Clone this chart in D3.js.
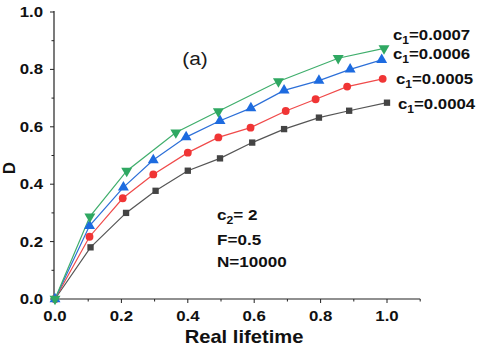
<!DOCTYPE html>
<html><head><meta charset="utf-8">
<script src="https://cdn.jsdelivr.net/npm/d3@7/dist/d3.min.js"></script>
<style>
html,body{margin:0;padding:0;background:#fff;}
svg{display:block;}
text{font-family:"Liberation Sans",Arial,sans-serif;}
</style></head>
<body><svg id="c" width="480" height="348"></svg>
<script>
const xBlack = [0, 0.107, 0.214, 0.303, 0.400, 0.497, 0.594, 0.690, 0.795, 0.886, 1.000];
const yBlack = [0, 0.180, 0.300, 0.377, 0.447, 0.490, 0.545, 0.592, 0.632, 0.656, 0.684];
const xRed   = [0, 0.104, 0.204, 0.296, 0.400, 0.492, 0.589, 0.695, 0.785, 0.880, 0.987];
const yRed   = [0, 0.217, 0.351, 0.434, 0.510, 0.563, 0.597, 0.655, 0.696, 0.740, 0.767];
const xBlue  = [0, 0.104, 0.206, 0.296, 0.395, 0.497, 0.590, 0.690, 0.795, 0.889, 0.984];
const yBlue  = [0, 0.255, 0.389, 0.484, 0.564, 0.621, 0.665, 0.727, 0.761, 0.800, 0.833];
const xGreen = [0, 0.105, 0.216, 0.364, 0.492, 0.673, 0.853, 0.991];
const yGreen = [0, 0.287, 0.446, 0.580, 0.654, 0.758, 0.839, 0.873];
const seriesLabels = ["0.0004", "0.0005", "0.0006", "0.0007"];
const xTicks = [0, 0.2, 0.4, 0.6, 0.8, 1.0];
const yTicks = [0, 0.2, 0.4, 0.6, 0.8, 1.0];
const xMinor = [0.1, 0.3, 0.5, 0.7, 0.9, 1.1];
const yMinor = [0.1, 0.3, 0.5, 0.7, 0.9];
const notes = [["c", "2", "= 2"], ["F=0.5"], ["N=10000"]];

const svg = d3.select("#c");
const x = d3.scaleLinear().domain([0, 1.1]).range([55, 420.2]);
const y = d3.scaleLinear().domain([0, 1]).range([299, 12]);
const SX = 1.2;
const axisColor = "#222";

// axes
const gx = svg.append("g").attr("transform", "translate(0,299)");
gx.append("line").attr("x1", 52).attr("x2", x(1.1)).attr("stroke", axisColor).attr("stroke-width", 1.2);
gx.selectAll(".mj").data(xTicks).join("line").attr("x1", d => x(d)).attr("x2", d => x(d)).attr("y1", 0).attr("y2", 4).attr("stroke", axisColor);
gx.selectAll(".mn").data(xMinor).join("line").attr("class","mn").attr("x1", d => x(d)).attr("x2", d => x(d)).attr("y1", 0).attr("y2", 2.5).attr("stroke", axisColor);
gx.selectAll("text").data(xTicks).join("text")
  .attr("transform", d => `translate(${x(d)},22) scale(${SX},1)`)
  .attr("text-anchor", "middle").attr("font-size", 14).attr("font-weight", "bold").attr("fill", "#111")
  .text(d => d3.format(".1f")(d));

const gy = svg.append("g").attr("transform", "translate(54,0)");
gy.append("line").attr("y1", y(0)+1).attr("y2", y(1)-1).attr("stroke", axisColor).attr("stroke-width", 1.2);
gy.selectAll(".mj").data(yTicks).join("line").attr("y1", d => y(d)).attr("y2", d => y(d)).attr("x1", 0).attr("x2", -4).attr("stroke", axisColor);
gy.selectAll(".mn").data(yMinor).join("line").attr("class","mn").attr("y1", d => y(d)).attr("y2", d => y(d)).attr("x1", 0).attr("x2", -2.5).attr("stroke", axisColor);
gy.selectAll("text").data(yTicks).join("text")
  .attr("transform", d => `translate(-11,${y(d)+5}) scale(${SX},1)`)
  .attr("text-anchor", "end").attr("font-size", 14).attr("font-weight", "bold").attr("fill", "#111")
  .text(d => d3.format(".1f")(d));

// axis titles
svg.append("text").attr("transform", `translate(244,343) scale(1.12,1)`).attr("text-anchor","middle")
  .attr("font-size", 18).attr("font-weight","bold").attr("fill","#111").text("Real lifetime");
svg.append("text").attr("transform", `translate(15,168) rotate(-90)`).attr("text-anchor","middle")
  .attr("font-size", 17).attr("font-weight","bold").attr("fill","#111").text("D");
svg.append("text").attr("transform", `translate(195,65) scale(1.1,1)`).attr("text-anchor","middle")
  .attr("font-size", 19).attr("fill","#1a1a1a").text("(a)");

// series
const series = [
  {xs: xBlack, ys: yBlack, line: "#555555", fill: "#444444", shape: d3.symbolSquare, size: 40, rot: 0},
  {xs: xRed,   ys: yRed,   line: "#f04a4a", fill: "#f03535", shape: d3.symbolCircle, size: 48, rot: 0},
  {xs: xBlue,  ys: yBlue,  line: "#2c6fd8", fill: "#1d6be0", shape: d3.symbolTriangle, size: 52, rot: 0},
  {xs: xGreen, ys: yGreen, line: "#3fae6c", fill: "#2fa862", shape: d3.symbolTriangle, size: 52, rot: 180},
];
const lineGen = d3.line().x(d => x(d[0])).y(d => y(d[1]));
series.forEach(s => {
  const pts = s.xs.map((v, i) => [v, s.ys[i]]);
  svg.append("path").datum(pts).attr("d", lineGen).attr("fill","none").attr("stroke", s.line).attr("stroke-width", 1.2);
});
series.forEach(s => {
  const pts = s.xs.map((v, i) => [v, s.ys[i]]);
  svg.append("g").selectAll("path").data(pts).join("path")
    .attr("d", d3.symbol().type(s.shape).size(s.size))
    .attr("transform", d => `translate(${x(d[0])},${y(d[1])}) rotate(${s.rot})`)
    .attr("fill", s.fill);
});

// series labels
const labPos = [[398,109],[396,84],[393,59],[393,40]];
seriesLabels.forEach((lab, i) => {
  const t = svg.append("text").attr("transform", `translate(${labPos[i][0]},${labPos[i][1]}) scale(1.2,1)`)
    .attr("font-size", 14).attr("font-weight","bold").attr("fill","#111");
  t.append("tspan").text("c");
  t.append("tspan").attr("font-size", 10).attr("dy", 4).text("1");
  t.append("tspan").attr("dy", -4).text("=" + lab);
});

// notes
const noteY = [220, 245, 267];
notes.forEach((n, i) => {
  const t = svg.append("text").attr("transform", `translate(217,${noteY[i]}) scale(1.22,1)`)
    .attr("font-size", 14).attr("font-weight","bold").attr("fill","#111");
  if (n.length === 3) {
    t.append("tspan").text(n[0]);
    t.append("tspan").attr("font-size", 10).attr("dy", 4).text(n[1]);
    t.append("tspan").attr("dy", -4).text(n[2]);
  } else t.text(n[0]);
});
</script></body></html>
